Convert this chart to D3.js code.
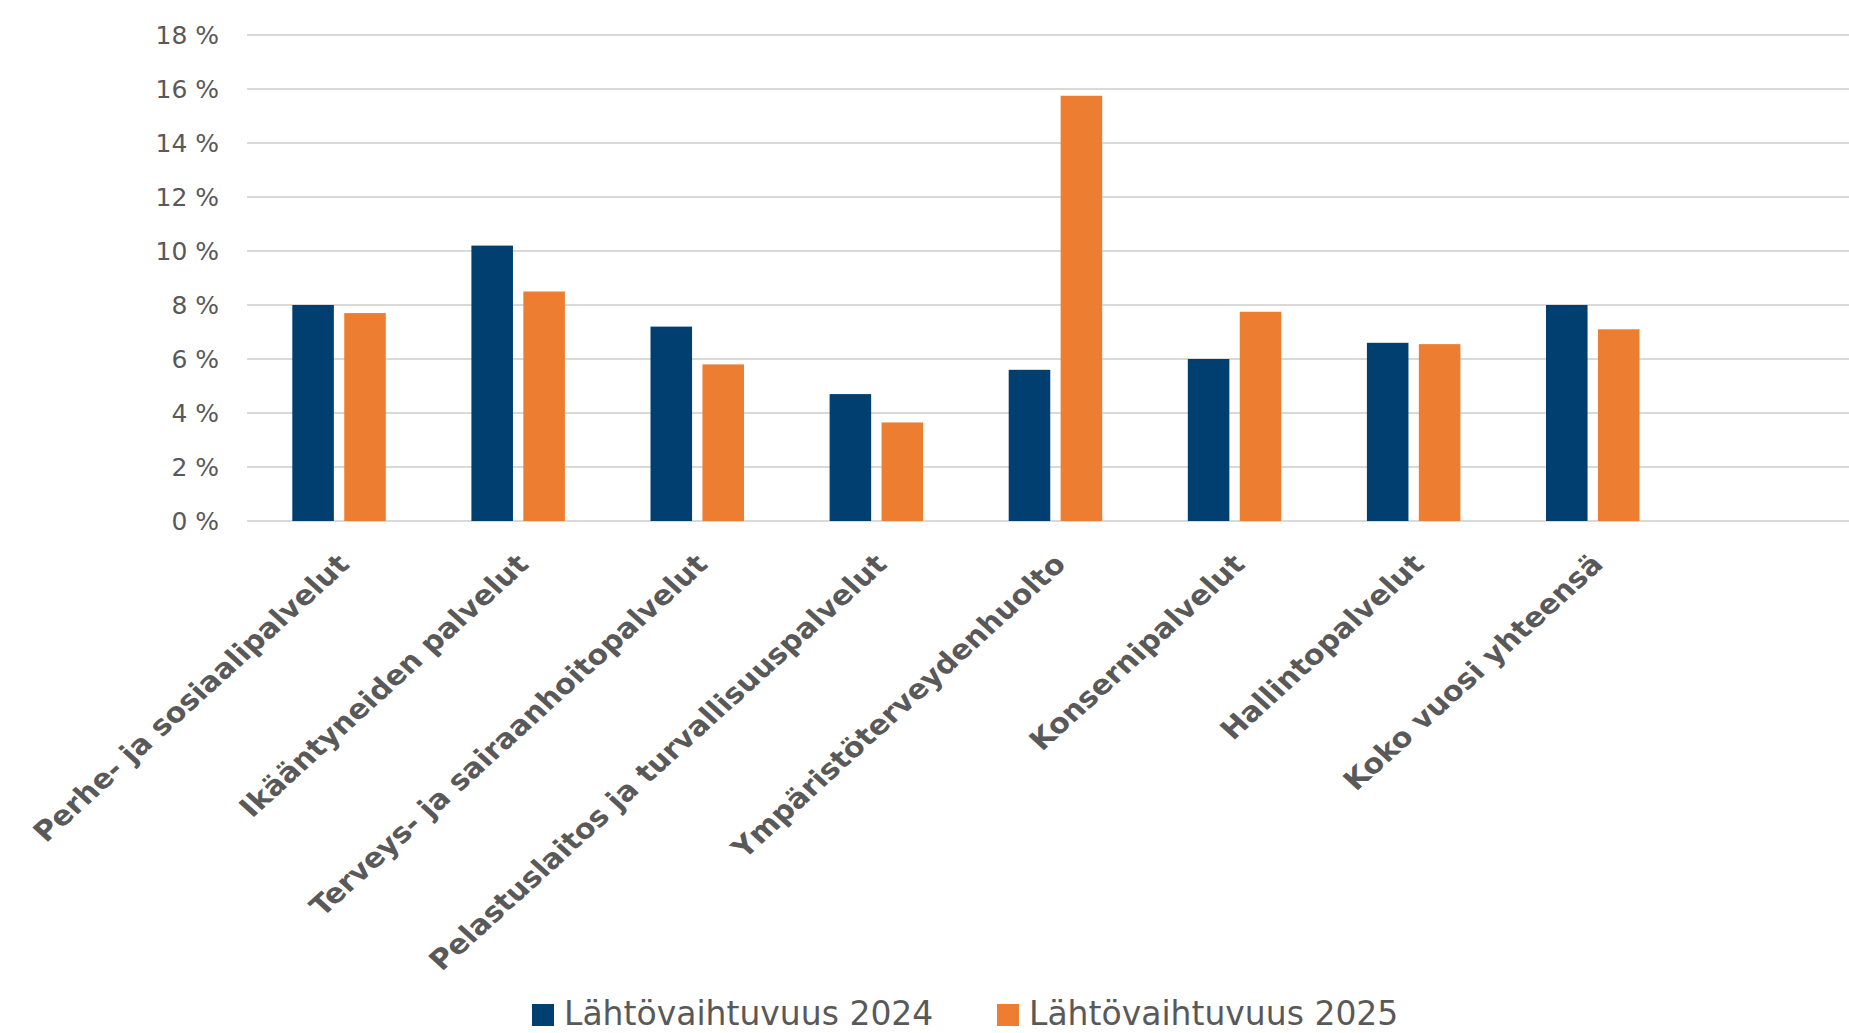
<!DOCTYPE html>
<html>
<head>
<meta charset="utf-8">
<script src="https://cdn.jsdelivr.net/npm/d3@7"></script>
<style>
  html, body { margin: 0; padding: 0; background: #ffffff; overflow: hidden; }
  svg { display: block; }
</style>
</head>
<body>
<svg id="chart" width="1849" height="1033"></svg>
<script>
// ---- Data ----
const categories = [
  "Perhe- ja sosiaalipalvelut",
  "Ikääntyneiden palvelut",
  "Terveys- ja sairaanhoitopalvelut",
  "Pelastuslaitos ja turvallisuuspalvelut",
  "Ympäristöterveydenhuolto",
  "Konsernipalvelut",
  "Hallintopalvelut",
  "Koko vuosi yhteensä"
];
const seriesNames = ["Lähtövaihtuvuus 2024", "Lähtövaihtuvuus 2025"];
const values2024 = [8.0, 10.2, 7.2, 4.7, 5.6, 6.0, 6.6, 8.0];
const values2025 = [7.7, 8.5, 5.8, 3.65, 15.75, 7.75, 6.55, 7.1];
const yTicks = [0, 2, 4, 6, 8, 10, 12, 14, 16, 18];
const seriesColors = ["#003f70", "#ed7d31"];

// ---- Layout ----
const W = 1849, H = 1033;
const plotLeft = 247, plotRight = 1849;
const bandStart = 249.5, bandStep = 179.1;
const yBottom = 521, yTop = 35;

const svg = d3.select("#chart");

const series = [values2024, values2025];
const rows = categories.map((c, i) => ({ cat: c, vals: series.map((s, k) => ({ key: seriesNames[k], k, v: s[i] })) }));

const x0 = d3.scaleBand()
  .domain(categories)
  .range([bandStart, bandStart + bandStep * categories.length])
  .paddingInner(0.478)
  .paddingOuter(0.239);

const x1 = d3.scaleBand()
  .domain(seriesNames)
  .range([0, x0.bandwidth()])
  .paddingInner(0.2)
  .paddingOuter(0);

const y = d3.scaleLinear().domain([0, 18]).range([yBottom, yTop]);

// Gridlines
svg.append("g").selectAll("line")
  .data(yTicks)
  .join("line")
  .attr("x1", plotLeft).attr("x2", plotRight)
  .attr("y1", d => y(d)).attr("y2", d => y(d))
  .attr("stroke", "#d9d9d9")
  .attr("stroke-width", 2);

// Y axis labels
const yAxis = d3.axisLeft(y)
  .tickValues(yTicks)
  .tickSize(0)
  .tickPadding(0)
  .tickFormat(d => d + " %");
const yg = svg.append("g").attr("transform", "translate(219,0)").call(yAxis);
yg.select(".domain").remove();
yg.selectAll("text")
  .attr("font-family", "DejaVu Sans, sans-serif")
  .attr("font-size", 25)
  .attr("fill", "#595959");

// Bars
const groups = svg.append("g").selectAll("g")
  .data(rows)
  .join("g")
  .attr("transform", d => `translate(${x0(d.cat)},0)`);

groups.selectAll("rect")
  .data(d => d.vals)
  .join("rect")
  .attr("x", d => x1(d.key))
  .attr("width", x1.bandwidth())
  .attr("y", d => y(d.v))
  .attr("height", d => y(0) - y(d.v))
  .attr("fill", d => seriesColors[d.k]);

// X axis labels (rotated, slightly stretched horizontally like the reference)
const xg = svg.append("g");
xg.selectAll("text")
  .data(categories)
  .join("text")
  .attr("transform", d => `translate(${x0(d) + x0.bandwidth() / 2 + 12},566) scale(1.1,1) rotate(-45)`)
  .attr("text-anchor", "end")
  .attr("font-family", "DejaVu Sans, sans-serif")
  .attr("font-weight", "bold")
  .attr("font-size", 27.5)
  .attr("fill", "#595959")
  .text(d => d);

// Legend
const legendX = d3.scaleOrdinal().domain(seriesNames).range([532, 997]);
const lg = svg.append("g").selectAll("g")
  .data(seriesNames)
  .join("g")
  .attr("transform", d => `translate(${legendX(d)},0)`);
lg.append("rect")
  .attr("x", 0).attr("y", 1004)
  .attr("width", 22).attr("height", 22)
  .attr("fill", (d, i) => seriesColors[i]);
lg.append("text")
  .attr("x", 32).attr("y", 1025)
  .attr("font-family", "DejaVu Sans, sans-serif")
  .attr("font-size", 33)
  .attr("fill", "#595959")
  .text(d => d);
</script>
</body>
</html>
